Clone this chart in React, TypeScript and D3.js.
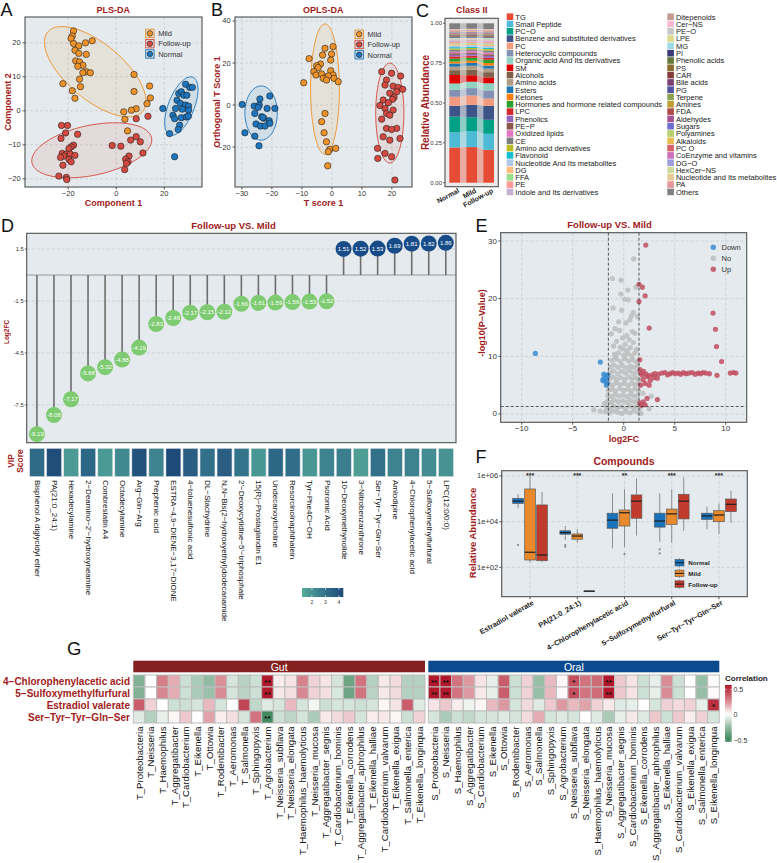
import React from "react";
import * as d3 from "d3";

const FONT = "'Liberation Sans', Arial, Helvetica, sans-serif";
const DARK_RED = "#A11B20";
const PANEL_BG = "#E4EAED";
const GRID = "#C6CDD1";
const FRAME = "#505050";
const TXT = "#333333";

const groupNames = ["Mild", "Follow-up", "Normal"];
const groupFill = ["#EE9128", "#D44A40", "#1C75BF"];

// ---------- A: PLS-DA scores ----------
const plsMild = [[-17.8,23.5],[-18.3,22],[-18.8,21.3],[-17.8,19.8],[-15.6,19.1],[-12.8,20],[-10,20.6],[-17.2,17.8],[-15.6,16.9],[-12.5,16.6],[-16.9,14.7],[-15.3,14.4],[-13.9,13.4],[-16,13.1],[-12.5,11.5],[-13.9,11.2],[-10.8,11.2],[-15.3,9.3],[-14.9,7.1],[-22.2,8],[-18.3,5.9],[-17.2,3.7],[7.4,10.7],[7.4,5.7],[13.9,7.3],[14.2,3.8],[12.8,2.1],[8.3,0.6],[6.3,0.2],[3.1,-0.3],[3.6,-2.5],[4.7,-5.9]];
const plsFollow = [[-22.8,-4.3],[-20.3,-4.3],[-21.1,-6.5],[-16.1,-6.9],[-23,-8.1],[-17.8,-10.1],[-18.8,-10.6],[-19.7,-11.1],[-22.5,-12.5],[-20.8,-12.7],[-21.8,-13.3],[-23.2,-13.7],[-19.2,-12.7],[-19.7,-14.3],[-17.2,-13.1],[-18.8,-15],[-22.2,-16],[-23.9,-19.2],[-20.8,-19.6],[-20.6,-20.2],[-1.7,-10.2],[1.9,-10.4],[6,-8.6],[8.3,-7.6],[10,-9.1],[11.1,-12.4],[5.3,-13.3],[3.9,-14.2],[4.9,-15],[4.2,-15.5],[3.5,-17.3],[8.3,-2.3],[13.2,-1.6]];
const plsNormal = [[19.4,0.7],[22.2,-6.7],[24.3,-13.5],[28.9,7.8],[30.6,6.9],[31.7,6.9],[26,5.1],[27.1,5.6],[28.1,4.6],[29.4,4.6],[25.3,3.1],[26.7,2.2],[28.8,1.7],[30.1,1.4],[24.7,0.7],[27.5,0.5],[30.1,0.2],[23.6,-1.3],[24.3,-2.3],[27.1,-2],[29.2,-1.8],[30,-1.6],[26.4,-4.2],[25.8,-5.5]];
// ellipse: centre x, centre y, axis1 (dx, dy), axis2 (dx, dy) in data units
const plsEllipses = [[-8.75,11.5,19.8,-11.7,7.5,6.3],[-10.2,-11.6,24.9,3.7,2.1,-7.2],[27.1,1.4,4.8,8.5,5.0,-1.4]];

// ---------- B: OPLS-DA scores ----------
const oplsMild = [[0.4,27.8],[-2.3,27],[-0.1,24.3],[-3.1,23.8],[-0.4,21.4],[-3.8,19.5],[-5.1,18.7],[-4.6,17.8],[-6,15.9],[-5.3,14.3],[-3.4,14.8],[-0.4,16.3],[0.4,14.3],[-2,13.2],[-1.2,13.8],[-2.9,12.7],[-1.8,11.9],[0.7,12.7],[2.1,11.1],[-7.6,22.1],[-9.4,10.6],[-2.3,-4],[-3.4,-7.9],[-2.6,-13.2],[-1.8,-17.5],[-0.7,-21.1],[-1.2,-22.2],[1.3,-20.6],[-1.4,-28.9]];
const oplsFollow = [[19.9,15.1],[22.9,13.8],[18.2,11.9],[17.7,9.5],[20.4,9],[22.1,8.4],[23.6,7.5],[21.6,6.3],[19.3,5.6],[20.7,3.7],[17.1,2.4],[20.2,2.7],[18.8,1.1],[16,-0.2],[17.7,-1.6],[20.4,-2.4],[18.2,-4],[19.3,-4.8],[16.6,-6.7],[21.6,-11.1],[18.2,-11.1],[19.9,-11.6],[17.1,-15.1],[19.3,-16.7],[22.7,-15.9],[17.7,-23],[19.9,-24.6],[21,-35.7],[16.6,15.9],[15.2,-20.6],[15.3,-25.4]];
const oplsNormal = [[-29.9,0.3],[-25.9,-0.5],[-24.2,0],[-24,2.9],[-20.7,4.3],[-24.6,-1.1],[-21.6,-1.6],[-19,-1.6],[-25.7,-4],[-23.4,-5.6],[-22.7,-6.3],[-25.3,-9],[-23.8,-10],[-22.3,-10],[-20.9,-7.5],[-20.7,-8.7],[-29,-13.2],[-25.7,-14.8],[-24.3,-19.4],[-23,-5.9]];
const oplsEllipses = [[-2.3,7.6,4.8,0,0,31],[19.3,-3.8,4.7,0,0,23.8],[-23.6,-3.8,5.4,0,0,12.9]];

// ---------- C: Class II composition ----------
const classNames = ["TG","Small Peptide","PC−O","Benzene and substituted derivatives","PC","Heterocyclic compounds","Organic acid And Its derivatives","SM","Alcohols","Amino acids","Esters","Ketones","Hormones and hormone related compounds","LPC","Phenolics","PE−P","Oxidized lipids","CE","Amino acid derivatives","Flavonoid","Nucleotide And Its metabolites","DG","FFA","PE","Indole and Its derivatives","Ditepenoids","Cer−NS","PE−O","LPE","MG","PI","Phenolic acids","PS","CAR","Bile acids","PG","Terpene","Amines","FDA","Aldehydes","Sugars","Polyamines","Alkaloids","PC O","CoEnzyme and vitamins","DG−O","HexCer−NS","Nucleotide and Its metabolites","PA","Others"];
const classColors = ["#E64B35","#4DBBD5","#00A087","#3C5488","#F39B7F","#8491B4","#91D1C2","#DC0000","#7E6148","#B09C85","#1F77B4","#FF7F0E","#2CA02C","#D62728","#9467BD","#8C564B","#E377C2","#7F7F7F","#BCBD22","#17BECF","#AEC7E8","#FFBB78","#98DF8A","#FF9896","#C5B0D5","#C49C94","#F7B6D2","#C7C7C7","#DBDB8D","#9EDAE5","#393B79","#637939","#8C6D31","#843C39","#7B4173","#5254A3","#8CA252","#BD9E39","#AD494A","#A55194","#6B6ECF","#B5CF6B","#E7BA52","#D6616B","#CE6DBD","#9C9EDE","#CEDB9C","#E7CB94","#E7969C","#808080"];
const normalAbund = [0.220,0.095,0.098,0.068,0.056,0.043,0.040,0.053,0.030,0.022,0.020,0.012,0.018,0.014,0.010,0.010,0.010,0.012,0.008,0.008,0.010,0.008,0.006,0.008,0.006,0.004,0.004,0.005,0.004,0.003,0.004,0.003,0.003,0.004,0.003,0.003,0.003,0.003,0.003,0.003,0.003,0.002,0.003,0.003,0.002,0.002,0.002,0.003,0.003,0.036];
const mildAbund = [0.222,0.100,0.086,0.078,0.058,0.046,0.040,0.040,0.034,0.025,0.018,0.014,0.018,0.013,0.011,0.009,0.010,0.010,0.008,0.008,0.010,0.008,0.006,0.007,0.006,0.004,0.004,0.005,0.004,0.003,0.004,0.003,0.003,0.004,0.003,0.003,0.003,0.003,0.003,0.003,0.003,0.002,0.003,0.003,0.002,0.002,0.002,0.003,0.003,0.034];
const followAbund = [0.202,0.098,0.086,0.085,0.045,0.050,0.044,0.036,0.032,0.022,0.018,0.016,0.020,0.012,0.012,0.010,0.011,0.012,0.009,0.008,0.010,0.009,0.007,0.008,0.006,0.004,0.004,0.005,0.004,0.003,0.004,0.003,0.003,0.004,0.003,0.003,0.003,0.003,0.003,0.003,0.003,0.002,0.003,0.003,0.002,0.002,0.002,0.003,0.003,0.035];
const compGroups = ["Normal", "Mild", "Follow-up"];

// ---------- D: lollipop Follow-up vs Mild ----------
const dNames = ["Bisphenol A diglycidyl ether","PA(21:0_24:1)","Hexadecylamine","2−Deamino−2'−hydroxyneamine","Combrestatin A4","Octadecylamine","Arg−Gln−Arg","Prephenic acid","ESTRA−4,9−DIENE−3,17−DIONE","4−toluenesulfonic acid","DL−Stachydrine","N,N−Bis(2−hydroxyethyl)dodecanamide","2'−Deoxycytidine−5'−triphosphate","15(R)−Prostaglandin E1","Undecanoylcholine","Resorcinolnaphthalein","Tyr−Phe4Cl−OH","Psoromic Acid","10−Deoxymethynolide","3−Nitrobenzanthrone","Ser−Tyr−Tyr−Gln−Ser","Amlodipine","4−Chlorophenylacetic acid","5−Sulfoxymethylfurfural","LPC(12:0/0:0)"];
const dLog2FC = [-9.19,-8.08,-7.17,-5.68,-5.32,-4.88,-4.19,-2.83,-2.48,-2.17,-2.15,-2.12,-1.66,-1.61,-1.59,-1.56,-1.53,-1.52,1.51,1.52,1.53,1.69,1.81,1.82,1.86];
const dVip = [3.2,4.2,1.8,3.3,1.8,2.3,4.0,2.5,4.3,3.6,3.0,3.6,2.9,1.9,3.3,3.1,1.9,2.5,2.6,1.7,3.0,2.5,2.5,2.2,2.0];
const dTicks = [1.5,-1.5,-4.5,-7.5];

// ---------- E: volcano ----------
const volcanoNo = [[0.98,26.9],[-1.1,23.5],[-0.25,23.2],[1.2,22],[0.4,21.5],[-0.3,20.8],[0.1,19.9],[0.45,19.8],[-1.05,18.4],[-0.2,18],[0.95,17.6],[0.75,17],[1.35,16.9],[0.6,16.3],[-0.5,16],[0.2,15.8],[-0.85,14.8],[-0.4,14.5],[0.85,14.3],[1.1,14],[-1.2,13.9],[0.3,13.6],[-0.1,13.2],[0.55,12.9],[-0.7,12.6],[0.95,12.4],[0.15,12.1],[-1.0,11.8],[-0.35,11.6],[0.65,11.5],[1.25,11.2],[0.3,11.0],[-0.1,11.3],[-0.8,9.9],[-0.9,10.4],[-0.5,10.6],[0,10.2],[0.4,10.5],[0.8,10.1],[1.1,10.6],[-1.15,9.3],[-0.7,9.5],[-0.3,9.1],[0.1,9.6],[0.5,9.2],[0.9,9.4],[1.25,9.0],[-1.3,8.2],[-0.95,8.5],[-0.55,8.1],[-0.15,8.4],[0.25,8.0],[0.65,8.3],[1.0,8.1],[1.35,8.4],[-1.35,7.2],[-1.0,7.5],[-0.6,7.0],[-0.2,7.4],[0.2,7.1],[0.6,7.5],[0.95,7.0],[1.3,7.3],[-1.4,6.1],[-1.05,6.4],[-0.7,6.0],[-0.3,6.3],[0.1,6.0],[0.5,6.4],[0.85,6.1],[1.2,6.3],[1.45,6.0],[-1.45,5.2],[-1.1,5.0],[-0.75,5.4],[-0.35,5.1],[0.05,5.3],[0.45,5.0],[0.8,5.3],[1.15,5.1],[1.45,5.3],[-1.5,4.1],[-1.15,4.3],[-0.8,4.0],[-0.4,4.4],[0,4.1],[0.4,4.3],[0.75,4.0],[1.1,4.4],[1.45,4.1],[-1.55,3.2],[-1.2,3.0],[-0.85,3.4],[-0.45,3.1],[-0.05,3.3],[0.35,3.0],[0.7,3.4],[1.05,3.1],[1.4,3.3],[-1.6,2.2],[-1.25,2.0],[-0.9,2.4],[-0.5,2.1],[-0.1,2.3],[0.3,2.0],[0.65,2.4],[1.0,2.1],[1.35,2.3],[-1.7,1.2],[-1.35,1.0],[-1.0,1.4],[-0.6,1.1],[-0.2,1.3],[0.2,1.0],[0.6,1.4],[0.95,1.1],[1.3,1.3],[1.6,1.0],[-1.8,0.4],[-1.4,0.2],[-1.0,0.5],[-0.6,0.3],[-0.2,0.1],[0.2,0.4],[0.6,0.2],[1.0,0.5],[1.4,0.3],[1.7,0.1],[-2.94,0.7],[2.7,3.1],[2.5,0.9],[2.0,1.6],[-2.3,0.5],[1.9,3.6],[-1.9,1.8]];
const volcanoUp = [[2.16,29.3],[1.5,22.5],[1.83,22],[2.1,20.5],[1.5,19.5],[2.5,14.9],[8.76,17.5],[9.0,14.7],[9.1,11.7],[9.6,9.1],[1.57,9.4],[1.7,7.1],[1.95,7.4],[2.2,6.9],[2.45,6.6],[2.8,6.8],[3.05,7.0],[3.4,6.9],[3.75,7.1],[4.05,7.2],[4.3,6.8],[4.55,7.0],[4.8,7.2],[5.05,7.0],[5.35,7.1],[5.6,6.9],[5.85,7.2],[6.1,7.0],[6.4,7.1],[6.7,7.2],[7.0,6.9],[7.3,7.1],[7.55,7.0],[7.8,7.2],[8.05,7.1],[8.4,7.0],[9.15,6.7],[10.45,7.1],[10.75,7.2],[11.0,7.1],[1.6,7.7],[1.9,6.0],[2.1,5.3],[2.3,6.5],[1.65,5.0],[2.6,5.8],[2.95,6.3],[2.5,5.0],[1.8,6.8],[3.3,6.2],[1.57,1.9],[1.9,2.1],[2.29,2.7],[3.3,2.5],[1.75,1.5],[2.1,1.6]];
const volcanoDown = [[-8.66,10.5],[-2.29,9.0],[-1.95,6.9],[-1.75,6.6],[-2.0,6.1],[-1.65,6.2],[-1.85,5.7],[-1.6,5.4],[-1.7,5.0],[-2.05,5.8],[-1.55,6.8]];

// ---------- F: boxplots (min, q1, median, q3, max) ----------
const fCompounds = ["Estradiol valerate","PA(21:0_24:1)","4−Chlorophenylacetic acid","5−Sulfoxymethylfurfural","Ser−Tyr−Tyr−Gln−Ser"];
const fGroups = ["Normal","Mild","Follow-up"];
const fColors = ["#1A72BA","#E8892B","#C13B2D"];
const boxNormal = [[3.9e4,6.3e4,7.9e4,1.05e5,1.6e5],[1585,2818,3311,3981,6457],[676,5129,1.17e4,2.34e4,1.74e5],[1318,5754,1.07e4,2.34e4,1.74e5],[4677,1.26e4,1.78e4,2.34e4,4.57e4]];
const boxMild = [[166,209,457,2.7e5,1.0e6],[1202,1698,2344,2884,4677],[794,6457,2.45e4,3.24e4,2.63e5],[1202,7586,2.19e4,3.55e4,2.63e5],[2884,1.0e4,1.95e4,3.02e4,6.3e4]];
const boxFollow = [[166,195,347,5.4e4,2.0e5],[9.1,9.1,9.1,9.1,9.1],[2455,1.41e4,7.9e4,1.48e5,7.9e5],[3981,1.32e4,7.9e4,1.58e5,8.7e5],[8913,2.75e4,5.75e4,9.8e4,2.29e5]];
const outNormal = [[950],[950,794],[],[617,407],[]];
const outMild = [[],[],[380],[],[]];
const fSignif = ["***","***","**","***","***"];

// ---------- G: correlation heatmap ----------
const taxa = ["Proteobacteria","Neisseria","Haemophilus","Aggregatibacter","Cardiobacterium","Eikenella","Ottowia","Rodentibacter","Aeromonas","Salmonella","Sphingopyxis","Agrobacterium","Neisseria_subflava","Neisseria_elongata","Haemophilus_haemolyticus","Neisseria_mucosa","Aggregatibacter_segnis","Cardiobacterium_hominis","Eikenella_corrodens","Aggregatibacter_aphrophilus","Eikenella_halliae","Cardiobacterium_valvarum","Eikenella_exigua","Salmonella_enterica","Eikenella_longinqua"];
const hmCompounds = ["4−Chlorophenylacetic acid","5−Sulfoxymethylfurfural","Estradiol valerate","Ser−Tyr−Tyr−Gln−Ser"];
const gutCorr = [
  [-0.30,0.00,0.28,0.18,-0.12,-0.20,-0.26,0.24,-0.10,-0.17,-0.12,0.50,0.04,0.06,0.27,0.10,0.06,-0.10,-0.35,0.30,-0.18,0.05,0.08,-0.18,-0.18],
  [-0.30,0.00,0.26,0.18,-0.12,-0.20,-0.24,0.25,-0.10,-0.17,-0.12,0.50,0.05,0.07,0.26,0.10,0.07,-0.09,-0.35,0.30,-0.17,0.05,0.08,-0.18,-0.18],
  [0.35,0.10,0.00,-0.12,-0.12,-0.10,0.15,-0.10,0.00,0.40,-0.15,-0.08,-0.10,0.15,-0.10,-0.03,-0.12,-0.10,-0.10,-0.12,-0.10,0.02,0.06,0.35,-0.08],
  [-0.08,-0.18,-0.06,0.02,0.12,0.00,0.20,0.04,0.07,-0.10,0.30,-0.45,-0.12,-0.16,-0.10,-0.20,0.05,0.08,0.12,-0.10,0.04,0.05,0.02,-0.12,0.10],
];
const oralCorr = [
  [0.50,0.50,0.30,0.22,0.06,-0.06,0.35,-0.12,0.10,-0.25,0.15,0.02,0.38,0.30,0.32,0.50,0.12,0.06,-0.12,-0.06,0.25,-0.12,0.00,-0.25,0.01],
  [0.50,0.50,0.30,0.22,0.05,-0.06,0.35,-0.12,0.10,-0.25,0.15,0.01,0.38,0.30,0.32,0.50,0.12,0.06,-0.12,-0.06,0.25,-0.12,0.00,-0.25,0.01],
  [0.06,0.12,0.04,-0.04,0.02,0.15,0.22,-0.10,0.08,-0.08,0.12,0.22,0.15,0.20,0.10,0.05,-0.08,-0.06,0.00,-0.10,0.10,0.08,0.10,-0.06,0.45],
  [-0.10,-0.20,-0.12,-0.15,-0.10,-0.10,-0.08,-0.10,0.08,0.18,-0.10,-0.08,-0.10,0.00,-0.08,-0.20,-0.06,0.05,-0.08,0.12,-0.12,0.12,0.04,0.10,-0.10],
];
const gutStars = [[0,11,"**"],[1,11,"**"],[3,11,"**"]];
const oralStars = [[0,0,"**"],[0,1,"**"],[0,12,"*"],[0,15,"**"],[1,0,"**"],[1,1,"**"],[1,12,"*"],[1,15,"**"],[2,24,"*"]];

const minus = (t: number) => (t < 0 ? "−" + Math.abs(t) : String(t));

function ellipsePath(e: number[], x: any, y: any) {
  const pts = d3.range(72).map((i) => {
    const t = (i / 72) * Math.PI * 2;
    return [x(e[0] + e[2] * Math.cos(t) + e[4] * Math.sin(t)), y(e[1] + e[3] * Math.cos(t) + e[5] * Math.sin(t))] as [number, number];
  });
  return d3.line().curve(d3.curveLinearClosed)(pts) as string;
}

function ScorePlot(p: any) {
  const { f, xd, yd, xt, yt, sets, ells, title, titleX, xl, yl, ylX, legX, legY, clipId } = p;
  const x = d3.scaleLinear().domain(xd).range([f.l, f.r]);
  const y = d3.scaleLinear().domain(yd).range([f.b, f.t]);
  const cx = (f.l + f.r) / 2;
  return (
    <g>
      <defs>
        <clipPath id={clipId}><rect x={f.l} y={f.t} width={f.r - f.l} height={f.b - f.t} /></clipPath>
      </defs>
      <rect x={f.l} y={f.t} width={f.r - f.l} height={f.b - f.t} fill={PANEL_BG} />
      {xt.map((t: number) => <line key={"gx" + t} x1={x(t)} x2={x(t)} y1={f.t} y2={f.b} stroke={GRID} strokeWidth={0.8} strokeDasharray="3,2" />)}
      {yt.map((t: number) => <line key={"gy" + t} x1={f.l} x2={f.r} y1={y(t)} y2={y(t)} stroke={GRID} strokeWidth={0.8} strokeDasharray="3,2" />)}
      <g clipPath={`url(#${clipId})`}>
        {ells.map((e: number[], i: number) => (
          <path key={"e" + i} d={ellipsePath(e, x, y)} fill={groupFill[i]} fillOpacity={0.1} stroke={groupFill[i]} strokeWidth={0.9} />
        ))}
        {sets.map((pts: number[][], i: number) =>
          pts.map((d, j) => <circle key={i + "-" + j} cx={x(d[0])} cy={y(d[1])} r={3.2} fill={groupFill[i]} stroke="#222" strokeWidth={0.6} />)
        )}
      </g>
      <rect x={f.l} y={f.t} width={f.r - f.l} height={f.b - f.t} fill="none" stroke={FRAME} strokeWidth={1.1} />
      {xt.map((t: number) => (
        <g key={"tx" + t}>
          <line x1={x(t)} x2={x(t)} y1={f.b} y2={f.b + 2.5} stroke="#333" strokeWidth={0.8} />
          <text x={x(t)} y={f.b + 6.5} fontSize={7.5} textAnchor="middle" dominantBaseline="central" fill={TXT}>{minus(t)}</text>
        </g>
      ))}
      {yt.map((t: number) => (
        <g key={"ty" + t}>
          <line x1={f.l - 2.5} x2={f.l} y1={y(t)} y2={y(t)} stroke="#333" strokeWidth={0.8} />
          <text x={f.l - 4.3} y={y(t)} fontSize={7.5} textAnchor="end" dominantBaseline="central" fill={TXT}>{minus(t)}</text>
        </g>
      ))}
      <text x={titleX} y={9.8} fontSize={9} fontWeight="bold" textAnchor="middle" dominantBaseline="central" fill={DARK_RED}>{title}</text>
      <text x={cx} y={202.5} fontSize={9} fontWeight="bold" textAnchor="middle" dominantBaseline="central" fill={DARK_RED}>{xl}</text>
      <text transform={`translate(${ylX},${(f.t + f.b) / 2}) rotate(-90)`} fontSize={9} fontWeight="bold" textAnchor="middle" dominantBaseline="central" fill={DARK_RED}>{yl}</text>
      {groupNames.map((g, i) => (
        <g key={"lg" + g}>
          <rect x={legX} y={legY + i * 10.3} width={8.4} height={8.4} fill={groupFill[i]} fillOpacity={0.12} stroke={groupFill[i]} strokeWidth={0.9} />
          <circle cx={legX + 4.2} cy={legY + i * 10.3 + 4.2} r={2.8} fill={groupFill[i]} stroke="#222" strokeWidth={0.6} />
          <text x={legX + 12.5} y={legY + i * 10.3 + 4.4} fontSize={7.5} dominantBaseline="central" fill={TXT}>{g}</text>
        </g>
      ))}
    </g>
  );
}

function PanelC() {
  const f = { l: 445, r: 498.3, t: 18.3, b: 186.7 };
  const x = d3.scaleBand().domain(compGroups).range([f.l, f.r]).paddingInner(0.37).paddingOuter(0.253);
  const y = d3.scaleLinear().domain([0, 1]).range([182.7, 23.3]);
  const vals = [normalAbund, mildAbund, followAbund];
  const rows = compGroups.map((g, gi) => {
    const o: any = { group: g };
    classNames.forEach((n, i) => (o[n] = vals[gi][i]));
    return o;
  });
  const series = d3.stack().keys(classNames).offset(d3.stackOffsetExpand)(rows);
  const bw = x.bandwidth();
  const lx = [506.7, 667.3];
  return (
    <g>
      <rect x={f.l} y={f.t} width={f.r - f.l} height={f.b - f.t} fill="#EBEBEB" />
      {series.map((s, si) => (
        <g key={"s" + si}>
          {s.map((d, gi) => (
            <rect key={gi} x={x(compGroups[gi]) as number} y={y(d[1])} width={bw} height={Math.max(0, y(d[0]) - y(d[1]))} fill={classColors[si]} />
          ))}
          {s.slice(0, 2).map((d, gi) => {
            const n = s[gi + 1];
            const x0 = (x(compGroups[gi]) as number) + bw;
            const x1 = x(compGroups[gi + 1]) as number;
            return <polygon key={"r" + gi} points={`${x0},${y(d[1])} ${x1},${y(n[1])} ${x1},${y(n[0])} ${x0},${y(d[0])}`} fill={classColors[si]} fillOpacity={0.4} />;
          })}
        </g>
      ))}
      <rect x={f.l} y={f.t} width={f.r - f.l} height={f.b - f.t} fill="none" stroke={FRAME} strokeWidth={1.1} />
      {[0, 0.25, 0.5, 0.75, 1].map((t) => (
        <g key={"ct" + t}>
          <line x1={f.l - 2} x2={f.l} y1={y(t)} y2={y(t)} stroke="#333" strokeWidth={0.7} />
          <text x={f.l - 3} y={y(t)} fontSize={6} textAnchor="end" dominantBaseline="central" fill={TXT}>{t.toFixed(2)}</text>
        </g>
      ))}
      {compGroups.map((g) => (
        <text key={"cx" + g} transform={`translate(${(x(g) as number) + bw / 2 + 4},${190}) rotate(-28)`} fontSize={7} fontWeight="bold" textAnchor="end" dominantBaseline="central" fill="#222">{g}</text>
      ))}
      <text x={471.7} y={10.3} fontSize={9} fontWeight="bold" textAnchor="middle" dominantBaseline="central" fill={DARK_RED}>Class II</text>
      <text transform={`translate(425,${(f.t + f.b) / 2}) rotate(-90)`} fontSize={10} fontWeight="bold" textAnchor="middle" dominantBaseline="central" fill={DARK_RED}>Relative Abundance</text>
      {classNames.map((n, i) => {
        const col = i < 25 ? 0 : 1;
        const row = i % 25;
        const yy = 16.7 + row * 7.3;
        return (
          <g key={"cl" + i}>
            <rect x={lx[col]} y={yy - 3.3} width={6.6} height={6.6} fill={classColors[i]} />
            <text x={lx[col] + 8.6} y={yy + 0.3} fontSize={7.5} dominantBaseline="central" fill="#222">{n}</text>
          </g>
        );
      })}
    </g>
  );
}

function PanelD() {
  const f = { l: 26.7, r: 456, t: 233.3, b: 442.7 };
  const x = d3.scalePoint().domain(dNames).range([f.l, f.r]).padding(0.6);
  const y = d3.scaleLinear().domain([-9.68, 2.41]).range([f.b, f.t]);
  const vip = d3.scaleLinear<string>().domain([1.5, 3, 4.5]).range(["#52A598", "#32708A", "#1B4476"]);
  const lx = d3.scaleLinear().domain([1.3, 4.3]).range([302.5, 343]);
  return (
    <g>
      <defs>
        <linearGradient id="vipGrad" x1="0" x2="1" y1="0" y2="0">
          {[1.3, 2, 3, 4, 4.3].map((v) => <stop key={v} offset={(v - 1.3) / 3} stopColor={vip(v)} />)}
        </linearGradient>
      </defs>
      <rect x={f.l} y={f.t} width={f.r - f.l} height={f.b - f.t} fill={PANEL_BG} />
      {dTicks.map((t) => <line key={"dg" + t} x1={f.l} x2={f.r} y1={y(t)} y2={y(t)} stroke={GRID} strokeWidth={0.8} strokeDasharray="3,2" />)}
      <line x1={f.l} x2={f.r} y1={y(0)} y2={y(0)} stroke="#9A9A9A" strokeWidth={1} />
      {dNames.map((n, i) => (
        <line key={"st" + i} x1={x(n)} x2={x(n)} y1={y(0)} y2={y(dLog2FC[i])} stroke="#6E6E6E" strokeWidth={1.6} />
      ))}
      {dNames.map((n, i) => (
        <g key={"lp" + i}>
          <circle cx={x(n)} cy={y(dLog2FC[i])} r={8} fill={dLog2FC[i] < 0 ? "#7ECB72" : "#184C88"} />
          <text x={x(n)} y={y(dLog2FC[i])} fontSize={6} textAnchor="middle" dominantBaseline="central" fill="#fff">{dLog2FC[i].toFixed(2)}</text>
        </g>
      ))}
      <rect x={f.l} y={f.t} width={f.r - f.l} height={f.b - f.t} fill="none" stroke={FRAME} strokeWidth={1.1} />
      {dTicks.map((t) => (
        <g key={"dt" + t}>
          <line x1={f.l - 2} x2={f.l} y1={y(t)} y2={y(t)} stroke="#333" strokeWidth={0.7} />
          <text x={f.l - 3} y={y(t)} fontSize={5.8} textAnchor="end" dominantBaseline="central" fill={TXT}>{t}</text>
        </g>
      ))}
      <text transform={`translate(6,332) rotate(-90)`} fontSize={6.5} fontWeight="bold" textAnchor="middle" dominantBaseline="central" fill={DARK_RED}>Log2FC</text>
      <text x={233.5} y={225} fontSize={9.5} fontWeight="bold" textAnchor="middle" dominantBaseline="central" fill={DARK_RED}>Follow-up VS. Mild</text>
      {dNames.map((n, i) => (
        <rect key={"vip" + i} x={(x(n) as number) - 7.3} y={448.3} width={15} height={28.4} fill={vip(dVip[i])} stroke="#dfe5e8" strokeWidth={0.6} />
      ))}
      <text transform="translate(11,461) rotate(-90)" fontSize={8.5} fontWeight="bold" textAnchor="middle" dominantBaseline="central" fill={DARK_RED}>VIP</text>
      <text transform="translate(19.5,461) rotate(-90)" fontSize={8.5} fontWeight="bold" textAnchor="middle" dominantBaseline="central" fill={DARK_RED}>Score</text>
      {dNames.map((n, i) => (
        <text key={"dl" + i} transform={`translate(${(x(n) as number) + 0.5},480) rotate(90)`} fontSize={8} textAnchor="start" dominantBaseline="central" fill="#111">{n}</text>
      ))}
      <rect x={302} y={588} width={41.3} height={9} fill="url(#vipGrad)" />
      {[2, 3, 4].map((t) => (
        <g key={"vl" + t}>
          <line x1={lx(t)} x2={lx(t)} y1={588} y2={590} stroke="#fff" strokeWidth={0.6} />
          <line x1={lx(t)} x2={lx(t)} y1={595} y2={597} stroke="#fff" strokeWidth={0.6} />
          <text x={lx(t)} y={602} fontSize={5} textAnchor="middle" dominantBaseline="central" fill={TXT}>{t}</text>
        </g>
      ))}
    </g>
  );
}

function PanelE() {
  const f = { l: 500.7, r: 746.7, t: 232.7, b: 422.3 };
  const x = d3.scaleLinear().domain([-12.06, 12.06]).range([f.l, f.r]);
  const y = d3.scaleLinear().domain([-1.44, 31.44]).range([f.b, f.t]);
  const xt = [-10, -5, 0, 5, 10];
  const yt = [0, 10, 20, 30];
  const sets = [
    { pts: volcanoNo, c: "#BDBDBD" },
    { pts: volcanoUp, c: "#C24F61" },
    { pts: volcanoDown, c: "#3A8DD2" },
  ];
  return (
    <g>
      <rect x={f.l} y={f.t} width={f.r - f.l} height={f.b - f.t} fill={PANEL_BG} />
      {xt.map((t) => <line key={"eg" + t} x1={x(t)} x2={x(t)} y1={f.t} y2={f.b} stroke={GRID} strokeWidth={0.8} strokeDasharray="3,2" />)}
      {yt.map((t) => <line key={"eh" + t} x1={f.l} x2={f.r} y1={y(t)} y2={y(t)} stroke={GRID} strokeWidth={0.8} strokeDasharray="3,2" />)}
      {sets.map((s, si) => s.pts.map((d, j) => (
        <circle key={si + "-" + j} cx={x(d[0])} cy={y(d[1])} r={2.6} fill={s.c} fillOpacity={0.85} />
      )))}
      {[-1.5, 1.5].map((t) => <line key={"ev" + t} x1={x(t)} x2={x(t)} y1={f.t} y2={f.b} stroke="#333" strokeWidth={0.8} strokeDasharray="3,2" />)}
      <line x1={f.l} x2={f.r} y1={y(1.3)} y2={y(1.3)} stroke="#333" strokeWidth={0.8} strokeDasharray="3,2" />
      <rect x={f.l} y={f.t} width={f.r - f.l} height={f.b - f.t} fill="none" stroke={FRAME} strokeWidth={1.1} />
      {xt.map((t) => (
        <g key={"ex" + t}>
          <line x1={x(t)} x2={x(t)} y1={f.b} y2={f.b + 2.5} stroke="#333" strokeWidth={0.8} />
          <text x={x(t)} y={f.b + 6.2} fontSize={8} textAnchor="middle" dominantBaseline="central" fill={TXT}>{minus(t)}</text>
        </g>
      ))}
      {yt.map((t) => (
        <g key={"ey" + t}>
          <line x1={f.l - 2.5} x2={f.l} y1={y(t)} y2={y(t)} stroke="#333" strokeWidth={0.8} />
          <text x={f.l - 3.8} y={y(t)} fontSize={8} textAnchor="end" dominantBaseline="central" fill={TXT}>{t}</text>
        </g>
      ))}
      <text x={624} y={438.5} fontSize={9} fontWeight="bold" textAnchor="middle" dominantBaseline="central" fill={DARK_RED}>log2FC</text>
      <text transform={`translate(481.7,323) rotate(-90)`} fontSize={9} fontWeight="bold" textAnchor="middle" dominantBaseline="central" fill={DARK_RED}>-log10(P−Value)</text>
      <text x={609.5} y={224} fontSize={9.5} fontWeight="bold" textAnchor="middle" dominantBaseline="central" fill={DARK_RED}>Follow-up VS. Mild</text>
      {["Down", "No", "Up"].map((n, i) => (
        <g key={"el" + n}>
          <circle cx={713.3} cy={247.3 + i * 11} r={2.7} fill={[sets[2].c, sets[0].c, sets[1].c][i]} fillOpacity={0.85} />
          <text x={721.5} y={247.5 + i * 11} fontSize={7.5} dominantBaseline="central" fill={TXT}>{n}</text>
        </g>
      ))}
    </g>
  );
}

function PanelF() {
  const f = { l: 501.7, r: 747.3, t: 470.7, b: 596.7 };
  const x = d3.scalePoint().domain(fCompounds).range([f.l, f.r]).padding(0.6);
  const y = d3.scaleLog().domain([Math.pow(10, 0.713), Math.pow(10, 6.232)]).range([f.b, f.t]);
  const dodge = d3.scalePoint().domain(fGroups).range([-12, 12]);
  const boxes = [boxNormal, boxMild, boxFollow];
  const outs = [outNormal, outMild, [[], [], [], [], []]];
  const bw = 10.7;
  return (
    <g>
      <rect x={f.l} y={f.t} width={f.r - f.l} height={f.b - f.t} fill={PANEL_BG} />
      {fCompounds.map((c) => <line key={"fg" + c} x1={x(c)} x2={x(c)} y1={f.t} y2={f.b} stroke={GRID} strokeWidth={0.8} strokeDasharray="3,2" />)}
      {[1e2, 1e4, 1e6].map((t) => <line key={"fh" + t} x1={f.l} x2={f.r} y1={y(t)} y2={y(t)} stroke={GRID} strokeWidth={0.8} strokeDasharray="3,2" />)}
      {fCompounds.map((c, ci) => (
        <g key={"fb" + ci}>
          {fGroups.map((g, gi) => {
            const s = boxes[gi][ci];
            const cx = (x(c) as number) + (dodge(g) as number);
            return (
              <g key={g}>
                <line x1={cx} x2={cx} y1={y(s[0])} y2={y(s[1])} stroke="#777" strokeWidth={0.8} />
                <line x1={cx} x2={cx} y1={y(s[3])} y2={y(s[4])} stroke="#777" strokeWidth={0.8} />
                <rect x={cx - bw / 2} y={y(s[3])} width={bw} height={Math.max(0.6, y(s[1]) - y(s[3]))} fill={fColors[gi]} stroke="#5A5A5A" strokeWidth={0.7} />
                <line x1={cx - bw / 2} x2={cx + bw / 2} y1={y(s[2])} y2={y(s[2])} stroke="#1E1E1E" strokeWidth={1.2} />
                {outs[gi][ci].map((o, k) => <circle key={k} cx={cx} cy={y(o)} r={1.1} fill="#888" />)}
              </g>
            );
          })}
          <text x={x(c)} y={475} fontSize={7} fontWeight="bold" textAnchor="middle" dominantBaseline="central" fill="#222">{fSignif[ci]}</text>
        </g>
      ))}
      <rect x={f.l} y={f.t} width={f.r - f.l} height={f.b - f.t} fill="none" stroke={FRAME} strokeWidth={1.1} />
      {[1e2, 1e4, 1e6].map((t) => (
        <g key={"fy" + t}>
          <line x1={f.l - 2.5} x2={f.l} y1={y(t)} y2={y(t)} stroke="#333" strokeWidth={0.8} />
          <text x={f.l - 3.5} y={y(t)} fontSize={7.5} textAnchor="end" dominantBaseline="central" fill={TXT}>{"1e+0" + Math.log10(t)}</text>
        </g>
      ))}
      {fCompounds.map((c) => (
        <g key={"fx" + c}>
          <line x1={x(c)} x2={x(c)} y1={f.b} y2={f.b + 2.5} stroke="#333" strokeWidth={0.8} />
          <text transform={`translate(${(x(c) as number) + 3},${602}) rotate(-30)`} fontSize={7.3} fontWeight="bold" textAnchor="end" dominantBaseline="central" fill="#222">{c}</text>
        </g>
      ))}
      <text x={624} y={461} fontSize={10.5} fontWeight="bold" textAnchor="middle" dominantBaseline="central" fill={DARK_RED}>Compounds</text>
      <text transform={`translate(472,533) rotate(-90)`} fontSize={9.5} fontWeight="bold" textAnchor="middle" dominantBaseline="central" fill={DARK_RED}>Relative Abundance</text>
      {fGroups.map((g, i) => {
        const yk = 562.7 + i * 10.7;
        return (
          <g key={"fl" + g}>
            <line x1={679.5} x2={679.5} y1={yk - 4.5} y2={yk + 4.5} stroke="#777" strokeWidth={0.7} />
            <rect x={675} y={yk - 3.3} width={9} height={6.6} fill={fColors[i]} stroke="#5A5A5A" strokeWidth={0.6} />
            <line x1={675} x2={684} y1={yk} y2={yk} stroke="#1E1E1E" strokeWidth={1} />
            <text x={688.3} y={yk} fontSize={6.2} fontWeight="bold" dominantBaseline="central" fill="#222">{g}</text>
          </g>
        );
      })}
    </g>
  );
}

function PanelG() {
  const gutLabels = taxa.map((t) => "T_" + t);
  const oralLabels = taxa.map((t) => "S_" + t);
  const xg = d3.scaleBand().domain(gutLabels).range([133.3, 425]);
  const xo = d3.scaleBand().domain(oralLabels).range([428.3, 719.3]);
  const yr = d3.scaleBand().domain(hmCompounds).range([675, 723]);
  const col = d3.scaleLinear<string>().domain([-0.5, 0, 0.5]).range(["#2E7D4F", "#FFFFFF", "#B2182B"]).clamp(true);
  const ly = d3.scaleLinear().domain([-0.5, 0.5]).range([740, 689.3]);
  const blocks = [
    { labels: gutLabels, x: xg, vals: gutCorr, stars: gutStars, name: "Gut", fill: "#84201F" },
    { labels: oralLabels, x: xo, vals: oralCorr, stars: oralStars, name: "Oral", fill: "#0C4A8F" },
  ];
  return (
    <g>
      <defs>
        <linearGradient id="corGrad" x1="0" x2="0" y1="1" y2="0">
          {[-0.55, -0.25, 0, 0.25, 0.58].map((v) => <stop key={v} offset={(v + 0.55) / 1.13} stopColor={col(v)} />)}
        </linearGradient>
      </defs>
      <text x={67} y={655} fontSize={18.5} fill="#111">G</text>
      {blocks.map((b) => {
        const r = b.x.range();
        const bw = b.x.bandwidth();
        return (
          <g key={b.name}>
            <rect x={r[0]} y={660.7} width={r[1] - r[0]} height={11.6} fill={b.fill} />
            <text x={(r[0] + r[1]) / 2} y={666.7} fontSize={10.5} textAnchor="middle" dominantBaseline="central" fill="#fff">{b.name}</text>
            {b.vals.map((row, ri) => row.map((v, ci) => (
              <rect key={ri + "-" + ci} x={b.x(b.labels[ci]) as number} y={yr(hmCompounds[ri]) as number} width={bw} height={yr.bandwidth()} fill={col(v)} stroke="#BDBDBD" strokeWidth={1} />
            )))}
            {b.stars.map((s: any, k: number) => (
              <text key={"st" + k} x={(b.x(b.labels[s[1]]) as number) + bw / 2} y={(yr(hmCompounds[s[0]]) as number) + yr.bandwidth() / 2 + 1.5} fontSize={8} fontWeight="bold" textAnchor="middle" dominantBaseline="central" fill="#111">{s[2]}</text>
            ))}
            {b.labels.map((l) => (
              <text key={l} transform={`translate(${(b.x(l) as number) + bw / 2},726.5) rotate(-90)`} fontSize={9.6} textAnchor="end" dominantBaseline="central" fill="#111">{l}</text>
            ))}
          </g>
        );
      })}
      {hmCompounds.map((c) => (
        <text key={c} x={130} y={(yr(c) as number) + yr.bandwidth() / 2} fontSize={10} fontWeight="bold" textAnchor="end" dominantBaseline="central" fill={DARK_RED}>{c}</text>
      ))}
      <text x={725} y={678.3} fontSize={8} fontWeight="bold" dominantBaseline="central" fill="#222">Correlation</text>
      <rect x={725} y={685} width={6.7} height={56.7} fill="url(#corGrad)" />
      {[0.5, 0, -0.5].map((t) => (
        <g key={"cl" + t}>
          <line x1={725} x2={726.5} y1={ly(t)} y2={ly(t)} stroke="#fff" strokeWidth={0.6} />
          <line x1={730.2} x2={731.7} y1={ly(t)} y2={ly(t)} stroke="#fff" strokeWidth={0.6} />
          <text x={733.5} y={ly(t)} fontSize={7} dominantBaseline="central" fill={TXT}>{minus(t)}</text>
        </g>
      ))}
    </g>
  );
}

export default function App() {
  return (
    <svg width={777} height={863} viewBox="0 0 777 863" fontFamily={FONT} style={{ position: "absolute", left: 0, top: 0, background: "#fff" }}>
      <text x={0.5} y={15.5} fontSize={18} fill="#111">A</text>
      <text x={211} y={15.5} fontSize={18} fill="#111">B</text>
      <text x={416} y={17} fontSize={18} fill="#111">C</text>
      <text x={1} y={232} fontSize={18} fill="#111">D</text>
      <text x={475.5} y={232} fontSize={18} fill="#111">E</text>
      <text x={475.5} y={463} fontSize={18} fill="#111">F</text>
      <ScorePlot
        f={{ l: 25, r: 202, t: 17, b: 187 }} xd={[-38.0, 35.7]} yd={[-22.4, 27.6]}
        xt={[-20, 0, 20]} yt={[-20, -10, 0, 10, 20]}
        sets={[plsMild, plsFollow, plsNormal]} ells={plsEllipses}
        title="PLS-DA" titleX={113.3} xl="Component 1" yl="Component 2" ylX={8.3}
        legX={145.7} legY={29.2} clipId="clipA"
      />
      <ScorePlot
        f={{ l: 235, r: 412, t: 17, b: 187 }} xd={[-32.3, 26.7]} yd={[-39.0, 41.9]}
        xt={[-30, -20, -10, 0, 10, 20]} yt={[-20, 0, 20, 40]}
        sets={[oplsMild, oplsFollow, oplsNormal]} ells={oplsEllipses}
        title="OPLS-DA" titleX={323.3} xl="T score 1" yl="Orthogonal T Score 1" ylX={216.7}
        legX={355} legY={30} clipId="clipB"
      />
      <PanelC />
      <PanelD />
      <PanelE />
      <PanelF />
      <PanelG />
    </svg>
  );
}
